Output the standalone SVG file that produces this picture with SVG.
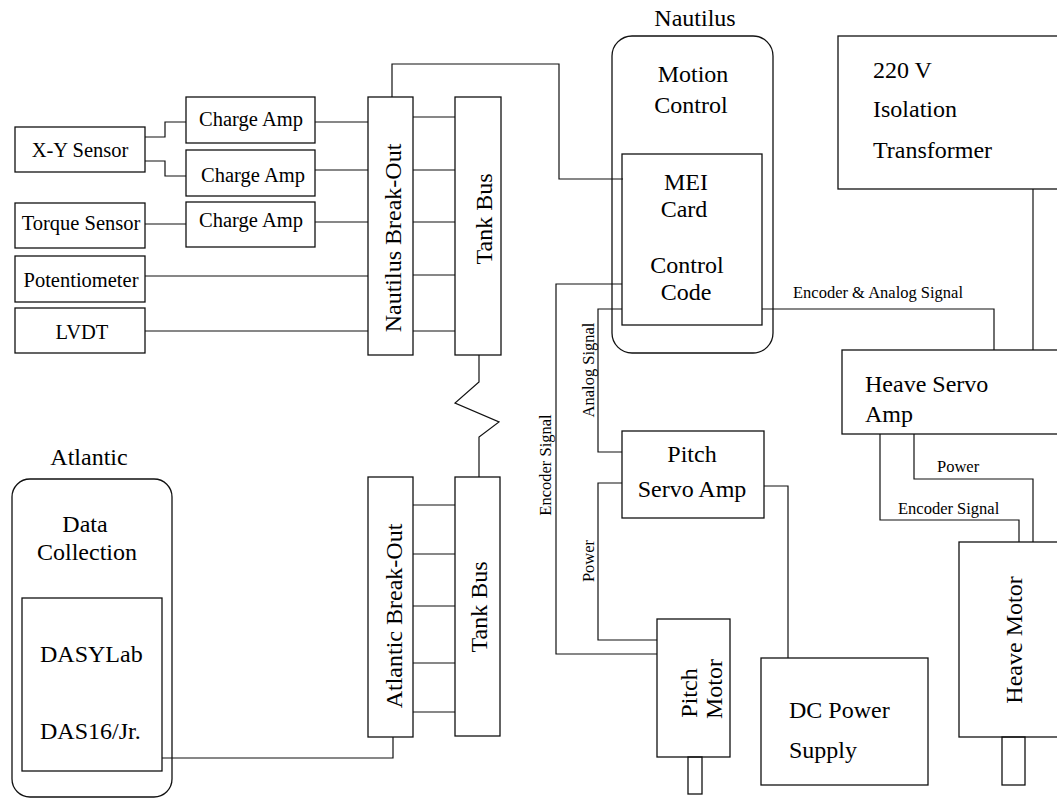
<svg xmlns="http://www.w3.org/2000/svg" width="1057" height="798" viewBox="0 0 1057 798" font-family="'Liberation Serif', serif">
<style>
.b{fill:none;stroke:#111;stroke-width:1.3}
.c{fill:none;stroke:#111;stroke-width:1.2}
.s{font-family:'Liberation Serif',serif;font-size:20.5px;font-weight:normal;fill:#000;stroke:none}
.m{font-family:'Liberation Serif',serif;font-size:24px;font-weight:normal;fill:#000;stroke:none}
.l{font-family:'Liberation Serif',serif;font-size:16.5px;font-weight:normal;fill:#000;stroke:none}
.mid{text-anchor:middle}
</style>
<rect width="1057" height="798" fill="#fff"/>
<g id="connectors">
<g class="c">
<polyline points="145,137 165,137 165,122 186,122"/>
<polyline points="145,161 165,161 165,176 186,176"/>
<polyline points="145,224 186,224"/>
<polyline points="315,122 368,122"/>
<polyline points="315,170 368,170"/>
<polyline points="315,222 368,222"/>
<polyline points="145,276 368,276"/>
<polyline points="145,331 368,331"/>
<path d="M413,117H455M413,170H455M413,222H455M413,275H455M413,331H455"/>
<polyline points="392,97 392,64 559,64 559,179 623,179"/>
<polyline points="479,355 479,382 455,403 499,422 479,437 479,477"/>
<path d="M413,505H455M413,554H455M413,606H455M413,663H455M413,712H455"/>
<polyline points="162,758 393,758 393,737"/>
<polyline points="622,284 556,284 556,654 657,654"/>
<polyline points="622,309 598,309 598,452 622,452"/>
<polyline points="622,483 598,483 598,640 657,640"/>
<polyline points="764,486 788,486 788,658"/>
<polyline points="762,309 994,309 994,350"/>
<polyline points="1033,189 1033,350"/>
<polyline points="880,434 880,520 1019,520 1019,542"/>
<polyline points="914,434 914,479 1033,479 1033,542"/>
</g>
<text class="l" x="793" y="298">Encoder &amp; Analog Signal</text>
<text class="l" x="937" y="472">Power</text>
<text class="l" x="898" y="514">Encoder Signal</text>
<text class="l mid" transform="translate(551,465) rotate(-90)">Encoder Signal</text>
<text class="l mid" transform="translate(594,370) rotate(-90)">Analog Signal</text>
<text class="l mid" transform="translate(594,561) rotate(-90)">Power</text>
</g>
<g id="xy-sensor"><rect class="b" x="15" y="127" width="130" height="45"/><text class="s mid" x="80" y="157">X-Y Sensor</text></g>
<g id="charge-amp-1"><rect class="b" x="186" y="97" width="129" height="46"/><text class="s mid" x="251" y="126">Charge Amp</text></g>
<g id="charge-amp-2"><rect class="b" x="186" y="150" width="129" height="46"/><text class="s mid" x="253" y="182">Charge Amp</text></g>
<g id="charge-amp-3"><rect class="b" x="186" y="202" width="129" height="45"/><text class="s mid" x="251" y="227">Charge Amp</text></g>
<g id="torque-sensor"><rect class="b" x="15" y="203" width="130" height="45"/><text class="s mid" x="81" y="230">Torque Sensor</text></g>
<g id="potentiometer"><rect class="b" x="15" y="256" width="130" height="46"/><text class="s mid" x="81" y="287">Potentiometer</text></g>
<g id="lvdt"><rect class="b" x="15" y="308" width="130" height="45"/><text class="s mid" x="82" y="339">LVDT</text></g>
<g id="nautilus-breakout"><rect class="b" x="368" y="97" width="45" height="258"/><text class="m mid" transform="translate(401,238) rotate(-90)">Nautilus Break-Out</text></g>
<g id="tank-bus-1"><rect class="b" x="455" y="97" width="46" height="258"/><text class="m mid" transform="translate(492,219) rotate(-90)">Tank Bus</text></g>
<g id="atlantic-breakout"><rect class="b" x="368" y="477" width="45" height="260"/><text class="m mid" transform="translate(402,616) rotate(-90)">Atlantic Break-Out</text></g>
<g id="tank-bus-2"><rect class="b" x="455" y="477" width="45" height="259"/><text class="m mid" transform="translate(487,607) rotate(-90)">Tank Bus</text></g>
<g id="atlantic"><text class="m mid" x="89" y="465">Atlantic</text><rect class="b" x="12" y="479" width="160" height="318" rx="18"/><text class="m mid" x="85" y="532">Data</text><text class="m mid" x="87" y="560">Collection</text></g>
<g id="das"><rect class="b" x="22" y="598" width="140" height="173"/><text class="m" x="40" y="662">DASYLab</text><text class="m" x="40" y="739">DAS16/Jr.</text></g>
<g id="nautilus"><text class="m mid" x="695" y="26">Nautilus</text><rect class="b" x="612" y="36" width="161" height="317" rx="20"/><text class="m mid" x="693" y="82">Motion</text><text class="m mid" x="691" y="113">Control</text></g>
<g id="mei-card"><rect class="b" x="622" y="154" width="140" height="171"/><text class="m mid" x="686" y="190">MEI</text><text class="m mid" x="684" y="217">Card</text><text class="m mid" x="687" y="273">Control</text><text class="m mid" x="686" y="300">Code</text></g>
<g id="transformer"><rect class="b" x="838" y="36" width="240" height="153"/><text class="m" x="873" y="78">220 V</text><text class="m" x="873" y="117">Isolation</text><text class="m" x="873" y="158">Transformer</text></g>
<g id="heave-servo"><rect class="b" x="842" y="350" width="240" height="84"/><text class="m" x="865" y="392">Heave Servo</text><text class="m" x="865" y="422">Amp</text></g>
<g id="pitch-servo"><rect class="b" x="622" y="431" width="142" height="87"/><text class="m mid" x="692" y="462">Pitch</text><text class="m mid" x="692" y="497">Servo Amp</text></g>
<g id="pitch-motor"><rect class="b" x="657" y="619" width="73" height="138"/><rect class="b" x="688" y="757" width="14" height="37"/><text class="m mid" transform="translate(697,693) rotate(-90)">Pitch</text><text class="m mid" transform="translate(722,689) rotate(-90)">Motor</text></g>
<g id="dc-power"><rect class="b" x="761" y="658" width="167" height="127"/><text class="m" x="789" y="718">DC Power</text><text class="m" x="789" y="758">Supply</text></g>
<g id="heave-motor"><rect class="b" x="959" y="542" width="120" height="195"/><rect class="b" x="1002" y="737" width="23" height="48"/><text class="m mid" transform="translate(1022,640) rotate(-90)">Heave Motor</text></g>
</svg>
